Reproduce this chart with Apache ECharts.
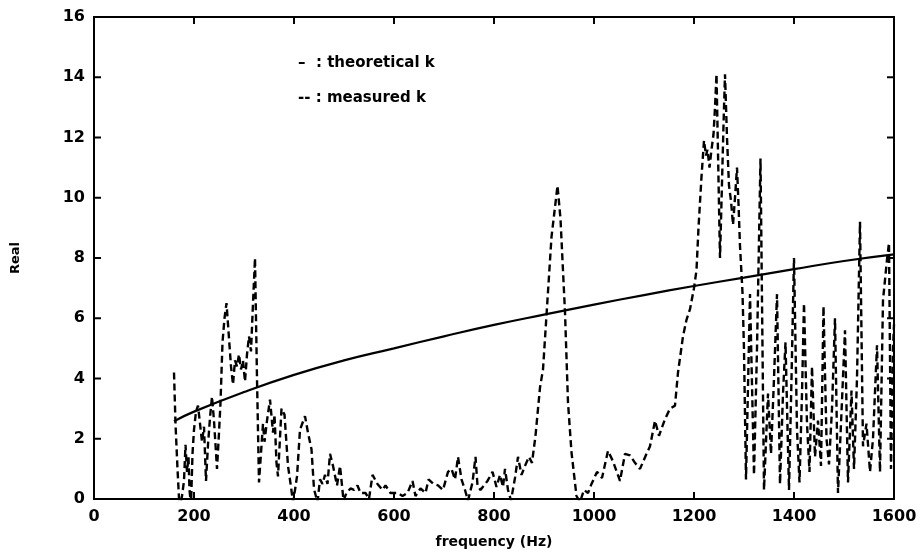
<!DOCTYPE html>
<html>
<head>
<meta charset="utf-8">
<script src="https://cdn.jsdelivr.net/npm/echarts@6/dist/echarts.min.js"></script>
<style>html,body{margin:0;padding:0;background:#fff;}#c{width:920px;height:554px;}</style>
</head>
<body>
<div id="c"></div>
<script>
// x-axis tick labels and y-axis tick labels
var xTicks = [0, 200, 400, 600, 800, 1000, 1200, 1400, 1600];
var yTicks = [0, 2, 4, 6, 8, 10, 12, 14, 16];

// theoretical k
var theoFreq = [160, 200, 300, 400, 500, 600, 700, 800, 900, 1000, 1100, 1200, 1300, 1400, 1500, 1600];
var theoVal  = [2.58, 2.9, 3.55, 4.12, 4.6, 5.0, 5.4, 5.78, 6.12, 6.45, 6.77, 7.07, 7.35, 7.63, 7.9, 8.12];

// measured k
var measFreq = [160,163,167,171,176,180,183,186,189,191,194,197,200,204,208,212,216,220,224,228,232,236,240,243,246,250,253,257,261,265,268,271,274,278,282,286,290,294,298,302,306,310,314,318,322,326,330,338,341,346,352,358,361,365,368,375,381,388,394,398,402,406,412,422,428,435,440,447,452,457,462,467,472,478,486,492,496,499,505,513,520,527,533,543,550,557,567,577,583,593,607,617,627,637,643,653,663,669,679,688,698,708,715,722,728,735,742,748,757,763,767,773,787,797,805,812,818,822,828,834,842,848,855,862,870,876,883,892,898,905,915,927,933,942,948,955,965,972,980,988,995,1006,1016,1028,1038,1052,1062,1072,1082,1092,1105,1112,1122,1130,1142,1152,1162,1168,1178,1185,1192,1200,1205,1209,1215,1220,1224,1227,1231,1235,1239,1242,1245,1248,1252,1256,1259,1262,1266,1270,1274,1278,1282,1286,1289,1292,1297,1300,1304,1312,1320,1326,1333,1340,1348,1354,1360,1366,1372,1378,1383,1390,1395,1400,1406,1411,1416,1420,1426,1431,1436,1442,1448,1454,1459,1465,1470,1476,1482,1488,1494,1502,1508,1515,1520,1526,1532,1538,1545,1552,1558,1566,1572,1578,1586,1590,1594,1598,1600];
var measVal  = [4.2,2.5,1.0,-0.3,0.1,0.6,1.8,0.9,1.4,0.3,-0.2,1.5,2.3,2.9,3.1,2.5,1.9,2.4,0.6,1.8,2.7,3.4,2.6,1.8,1.0,2.2,3.2,5.2,6.0,6.5,5.8,5.1,4.4,3.8,4.6,4.4,4.8,4.3,4.6,3.9,4.8,5.4,4.9,6.5,8.0,4.0,0.55,2.5,1.9,2.6,3.3,2.2,2.8,1.2,0.75,3.0,2.8,1.1,0.4,-0.1,0.3,0.75,2.3,2.75,2.2,1.65,0.33,-0.1,0.65,0.5,0.8,0.5,1.5,1.1,0.45,1.1,0.45,-0.05,0.2,0.35,0.3,0.45,0.2,0.2,0.0,0.8,0.5,0.3,0.45,0.2,0.2,0.1,0.2,0.6,0.1,0.35,0.2,0.65,0.5,0.45,0.3,0.9,1.0,0.65,1.4,0.65,0.3,-0.05,0.55,1.4,0.45,0.3,0.6,0.9,0.4,0.8,0.4,1.0,0.3,-0.05,0.7,1.4,0.8,1.1,1.4,1.2,2.1,3.7,4.3,6.1,8.7,10.4,9.3,6.2,3.2,1.55,0.1,-0.1,0.3,0.2,0.5,0.9,0.7,1.6,1.25,0.6,1.5,1.45,1.2,1.0,1.5,1.75,2.6,2.1,2.65,3.0,3.1,4.2,5.4,5.95,6.3,7.0,7.6,9.0,10.7,11.9,11.4,11.6,11.0,11.6,12.1,13.0,14.1,11.5,8.0,10.5,12.4,14.1,12.0,10.4,9.9,9.1,10.0,11.0,9.8,8.4,6.85,4.95,0.65,6.8,0.8,5.0,11.3,0.3,3.5,1.5,4.0,6.8,0.5,3.5,5.2,0.3,4.0,8.0,2.3,0.55,3.5,6.5,2.5,0.9,4.4,1.4,2.6,1.1,6.4,2.0,1.15,3.0,6.0,0.2,2.5,5.6,0.55,3.6,1.0,4.0,9.2,1.75,2.5,0.9,2.0,5.1,0.9,6.6,7.95,8.5,1.0,5.0,5.8];

var theoData = theoFreq.map(function(f, i){ return [f, theoVal[i]]; });
var measData = measFreq.map(function(f, i){ return [f, measVal[i]]; });

var X_MIN = xTicks[0], X_MAX = xTicks[xTicks.length - 1];
var Y_MIN = yTicks[0], Y_MAX = yTicks[yTicks.length - 1];
var TICK_PX = 7;

var FONT = '"DejaVu Sans", sans-serif';
function line(){ return {show: true, onZero: false, lineStyle: {color: '#000', width: 2}}; }
function tick(){ return {show: true, inside: true, length: TICK_PX, lineStyle: {color: '#000', width: 2}}; }

var chart = echarts.init(document.getElementById('c'), null, {renderer: 'canvas'});
chart.setOption({
  animation: false,
  backgroundColor: '#fff',
  grid: {left: 94, right: 26, top: 17, bottom: 54, containLabel: false,
         show: true, borderColor: '#000', borderWidth: 2, backgroundColor: 'transparent'},
  xAxis: [{
    type: 'value', min: X_MIN, max: X_MAX, interval: 200,
    name: 'frequency (Hz)', nameLocation: 'middle', nameGap: 36,
    nameTextStyle: {fontFamily: FONT, fontSize: 14, fontWeight: 'bold', color: '#000'},
    axisLine: line(), axisTick: {show: false}, splitLine: {show: false},
    axisLabel: {fontFamily: FONT, fontSize: 16, fontWeight: 'bold', color: '#000', margin: 10,
      formatter: function(v){ return xTicks.indexOf(v) >= 0 ? String(v) : ''; }}
  }],
  yAxis: [{
    type: 'value', min: Y_MIN, max: Y_MAX, interval: 2,
    name: 'Real', nameLocation: 'middle', nameGap: 72, nameRotate: 90,
    nameTextStyle: {fontFamily: FONT, fontSize: 13, fontWeight: 'bold', color: '#000'},
    axisLine: line(), axisTick: {show: false}, splitLine: {show: false},
    axisLabel: {fontFamily: FONT, fontSize: 16, fontWeight: 'bold', color: '#000', margin: 9,
      formatter: function(v){ return yTicks.indexOf(v) >= 0 ? String(v) : ''; }}
  }],
  series: [{
    name: 'theoretical k', type: 'line', data: theoData, smooth: true, showSymbol: false, symbol: 'none',
    lineStyle: {color: '#000', width: 2.2, type: 'solid'}, clip: true, silent: true
  }, {
    name: 'measured k', type: 'line', data: measData, showSymbol: false, symbol: 'none',
    lineStyle: {color: '#000', width: 2.4, type: [7, 4]}, clip: true, silent: true
  }]
});

// legend text and inward frame ticks, positioned through the chart's own axis scales
var gfx = [
  {type: 'text', id: 'lg1', left: 298, top: 56, style: {text: '\u2013  : theoretical k', fontFamily: FONT, fontSize: 15, fontWeight: 'bold', fill: '#000'}},
  {type: 'text', id: 'lg2', left: 298, top: 91, style: {text: '-- : measured k', fontFamily: FONT, fontSize: 15, fontWeight: 'bold', fill: '#000'}}
];
function px(v){ return chart.convertToPixel({gridIndex: 0}, v); }
function seg(id, a, b){
  return {type: 'line', id: id, z: 50, silent: true,
          shape: {x1: a[0], y1: a[1], x2: b[0], y2: b[1]},
          style: {stroke: '#000', lineWidth: 2}};
}
xTicks.forEach(function(v, i){
  var b = px([v, Y_MIN]), t = px([v, Y_MAX]);
  gfx.push(seg('xb' + i, b, [b[0], b[1] - TICK_PX]));
  gfx.push(seg('xt' + i, t, [t[0], t[1] + TICK_PX]));
});
yTicks.forEach(function(v, i){
  var l = px([X_MIN, v]), r = px([X_MAX, v]);
  gfx.push(seg('yl' + i, l, [l[0] + TICK_PX, l[1]]));
  gfx.push(seg('yr' + i, r, [r[0] - TICK_PX, r[1]]));
});
chart.setOption({graphic: gfx});
</script>
</body>
</html>
